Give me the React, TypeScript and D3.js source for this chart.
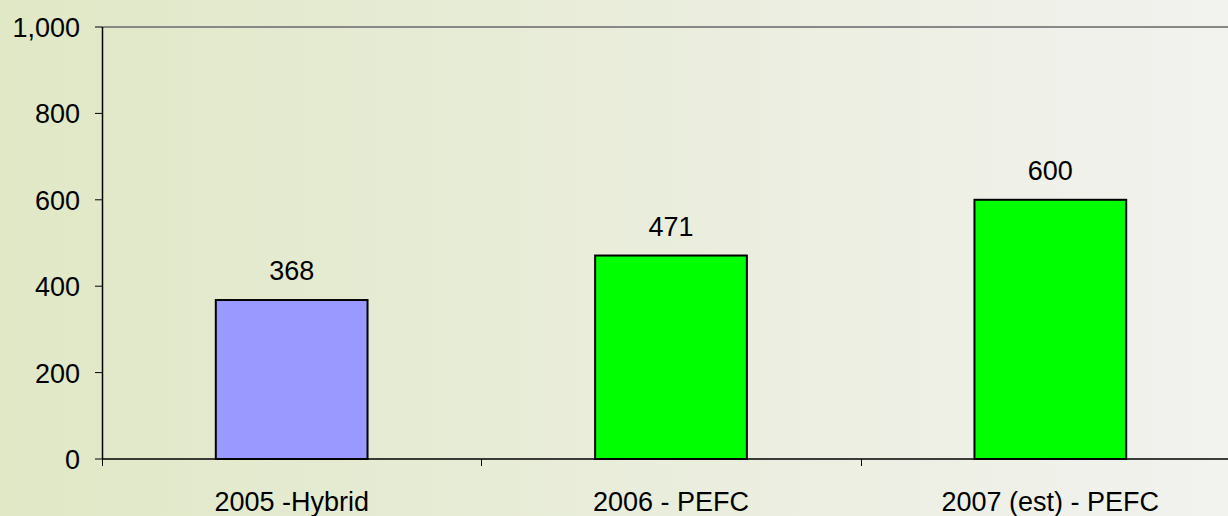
import React from "react";
import * as d3 from "d3";

const categories: string[] = ["2005 -Hybrid", "2006 - PEFC", "2007 (est) - PEFC"];
const values: number[] = [368, 471, 600];
const barColors: string[] = ["#9999ff", "#00ff00", "#00ff00"];
const yTicks: number[] = [0, 200, 400, 600, 800, 1000];

const width = 1228;
const height = 516;
const margin = { left: 102, top: 27, bottom: 57 };

const App: React.FC = () => {
  const x = d3
    .scaleBand<string>()
    .domain(categories)
    .range([margin.left, 1240]);
  const y = d3
    .scaleLinear()
    .domain([0, 1000])
    .range([height - margin.bottom, margin.top]);

  const barW = x.bandwidth() * 0.4;
  const fmt = d3.format(",");
  const y0 = y(0);

  return (
    <svg
      width={width}
      height={height}
      style={{ position: "absolute", left: 0, top: 0 }}
      fontFamily="Liberation Sans, Arial, sans-serif"
    >
      <defs>
        <linearGradient id="bg" x1="0" y1="0" x2="1" y2="0">
          <stop offset="0%" stopColor="#e0e8c6" />
          <stop offset="100%" stopColor="#f2f2ef" />
        </linearGradient>
      </defs>
      <rect width={width} height={height} fill="url(#bg)" />

      {/* top border of plot area */}
      <line
        x1={margin.left}
        x2={width}
        y1={y(1000)}
        y2={y(1000)}
        stroke="#888"
        strokeWidth={2}
      />

      {categories.map((c, i) => {
        const cx = (x(c) ?? 0) + x.bandwidth() / 2;
        return (
          <g key={c}>
            <rect
              x={cx - barW / 2}
              y={y(values[i])}
              width={barW}
              height={y0 - y(values[i])}
              fill={barColors[i]}
              stroke="#000"
              strokeWidth={2}
            />
            <text
              x={cx}
              y={y(values[i]) - 20}
              textAnchor="middle"
              fontSize={27}
              fill="#000"
            >
              {values[i]}
            </text>
            <text x={cx} y={511} textAnchor="middle" fontSize={27} fill="#000">
              {c}
            </text>
          </g>
        );
      })}

      {/* x axis */}
      <line x1={margin.left} x2={width} y1={y0} y2={y0} stroke="#000" strokeWidth={1.5} />
      {categories.slice(1).map((c) => (
        <line
          key={c}
          x1={Math.round(x(c) ?? 0) + 0.5}
          x2={Math.round(x(c) ?? 0) + 0.5}
          y1={y0}
          y2={y0 + 7}
          stroke="#000"
        />
      ))}
      <line x1={margin.left + 0.5} x2={margin.left + 0.5} y1={y0} y2={y0 + 7} stroke="#000" />

      {/* y axis */}
      <line
        x1={margin.left + 0.5}
        x2={margin.left + 0.5}
        y1={y(1000)}
        y2={y0}
        stroke="#000"
        strokeWidth={1.5}
      />
      {yTicks.map((t) => (
        <g key={t}>
          <line x1={95} x2={margin.left} y1={y(t)} y2={y(t)} stroke="#000" />
          <text x={80} y={y(t) + 10} textAnchor="end" fontSize={27} fill="#000">
            {fmt(t)}
          </text>
        </g>
      ))}
    </svg>
  );
};

export default App;
